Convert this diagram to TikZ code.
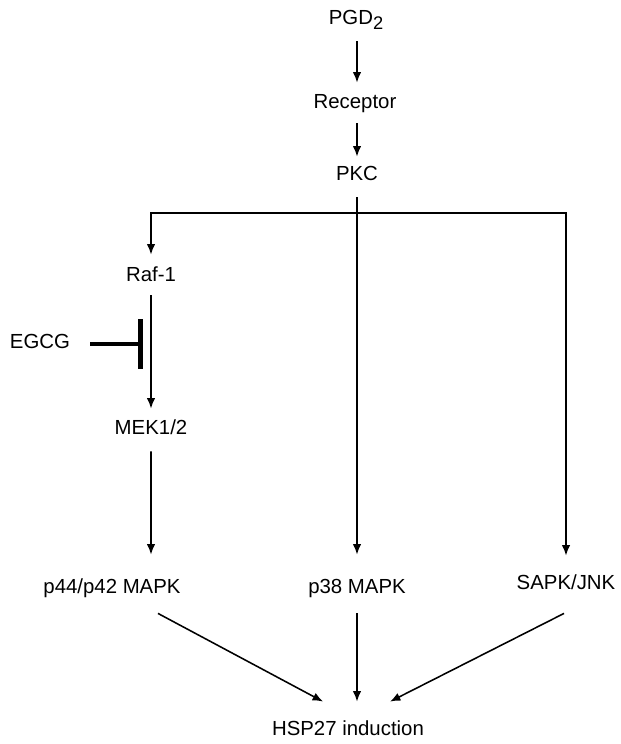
\documentclass[tikz,border=0pt]{standalone}
\usepackage{fontspec}
\setmainfont{Liberation Sans}
\usetikzlibrary{arrows.meta}

\begin{document}
\begin{tikzpicture}[
    label/.style={inner sep=0pt, text height=10pt, text depth=3pt, font=\fontsize{14.5}{16}\selectfont},
    link/.style={line width=1.1pt, -{Latex[length=2.6mm, width=2.1mm]}},
    inhibit/.style={line width=3.4pt, -{Bar[width=12.5mm]}}
]
    \useasboundingbox (0,0) rectangle (15.5,-18.6);

    % upstream chain
    \node[label] (pgd) at (8.9, -0.5) {PGD\raisebox{-0.45ex}{\fontsize{13}{14}\selectfont 2}};
    \node[label] (receptor) at (8.875, -2.6) {Receptor};
    \node[label] (pkc) at (8.925, -4.4) {PKC};

    % three branches
    \node[label] (raf) at (3.775, -6.925) {Raf-1};
    \node[label] (mek) at (3.775, -10.75) {MEK1/2};
    \node[label] (egcg) at (1.0, -8.6) {EGCG};
    \node[label] (p44) at (2.8, -14.725) {p44/p42 MAPK};
    \node[label] (p38) at (8.925, -14.725) {p38 MAPK};
    \node[label] (sapk) at (14.15, -14.625) {SAPK/JNK};

    % output
    \node[label] (hsp) at (8.7, -18.275) {HSP27 induction};

    \coordinate (split) at (8.925, -5.325);
    \coordinate (block) at (3.575, -8.6);

    \draw[link, shorten <=0.3cm, shorten >=0.3cm] (pgd.south -| pkc) -- (receptor.north -| pkc);
    \draw[link, shorten <=0.25cm, shorten >=0.25cm] (receptor.south -| pkc) -- (pkc.north);
    \draw[link] ([yshift=-0.3cm]pkc.south) -- ([yshift=0.625cm]p38.north);
    \draw[link] (split) -| ([yshift=0.325cm]raf.north);
    \draw[link] (split) -| ([yshift=0.5cm]sapk.north);
    \draw[link] ([yshift=-0.225cm]raf.south) -- ([yshift=0.3cm]mek.north);
    \draw[link] ([yshift=-0.3cm]mek.south) -- ([xshift=0.975cm, yshift=0.625cm]p44.north);
    \draw[inhibit] ([xshift=0.5cm]egcg.east) -- (block);

    % converge on HSP27
    \draw[link] ([xshift=1.15cm, yshift=-0.375cm]p44.south) -- ([xshift=-0.625cm, yshift=0.5cm]hsp.north);
    \draw[link] ([yshift=-0.375cm]p38.south) -- ([xshift=0.225cm, yshift=0.5cm]hsp.north);
    \draw[link] ([xshift=-0.05cm, yshift=-0.475cm]sapk.south) -- ([xshift=1.05cm, yshift=0.5cm]hsp.north);
\end{tikzpicture}
\end{document}
